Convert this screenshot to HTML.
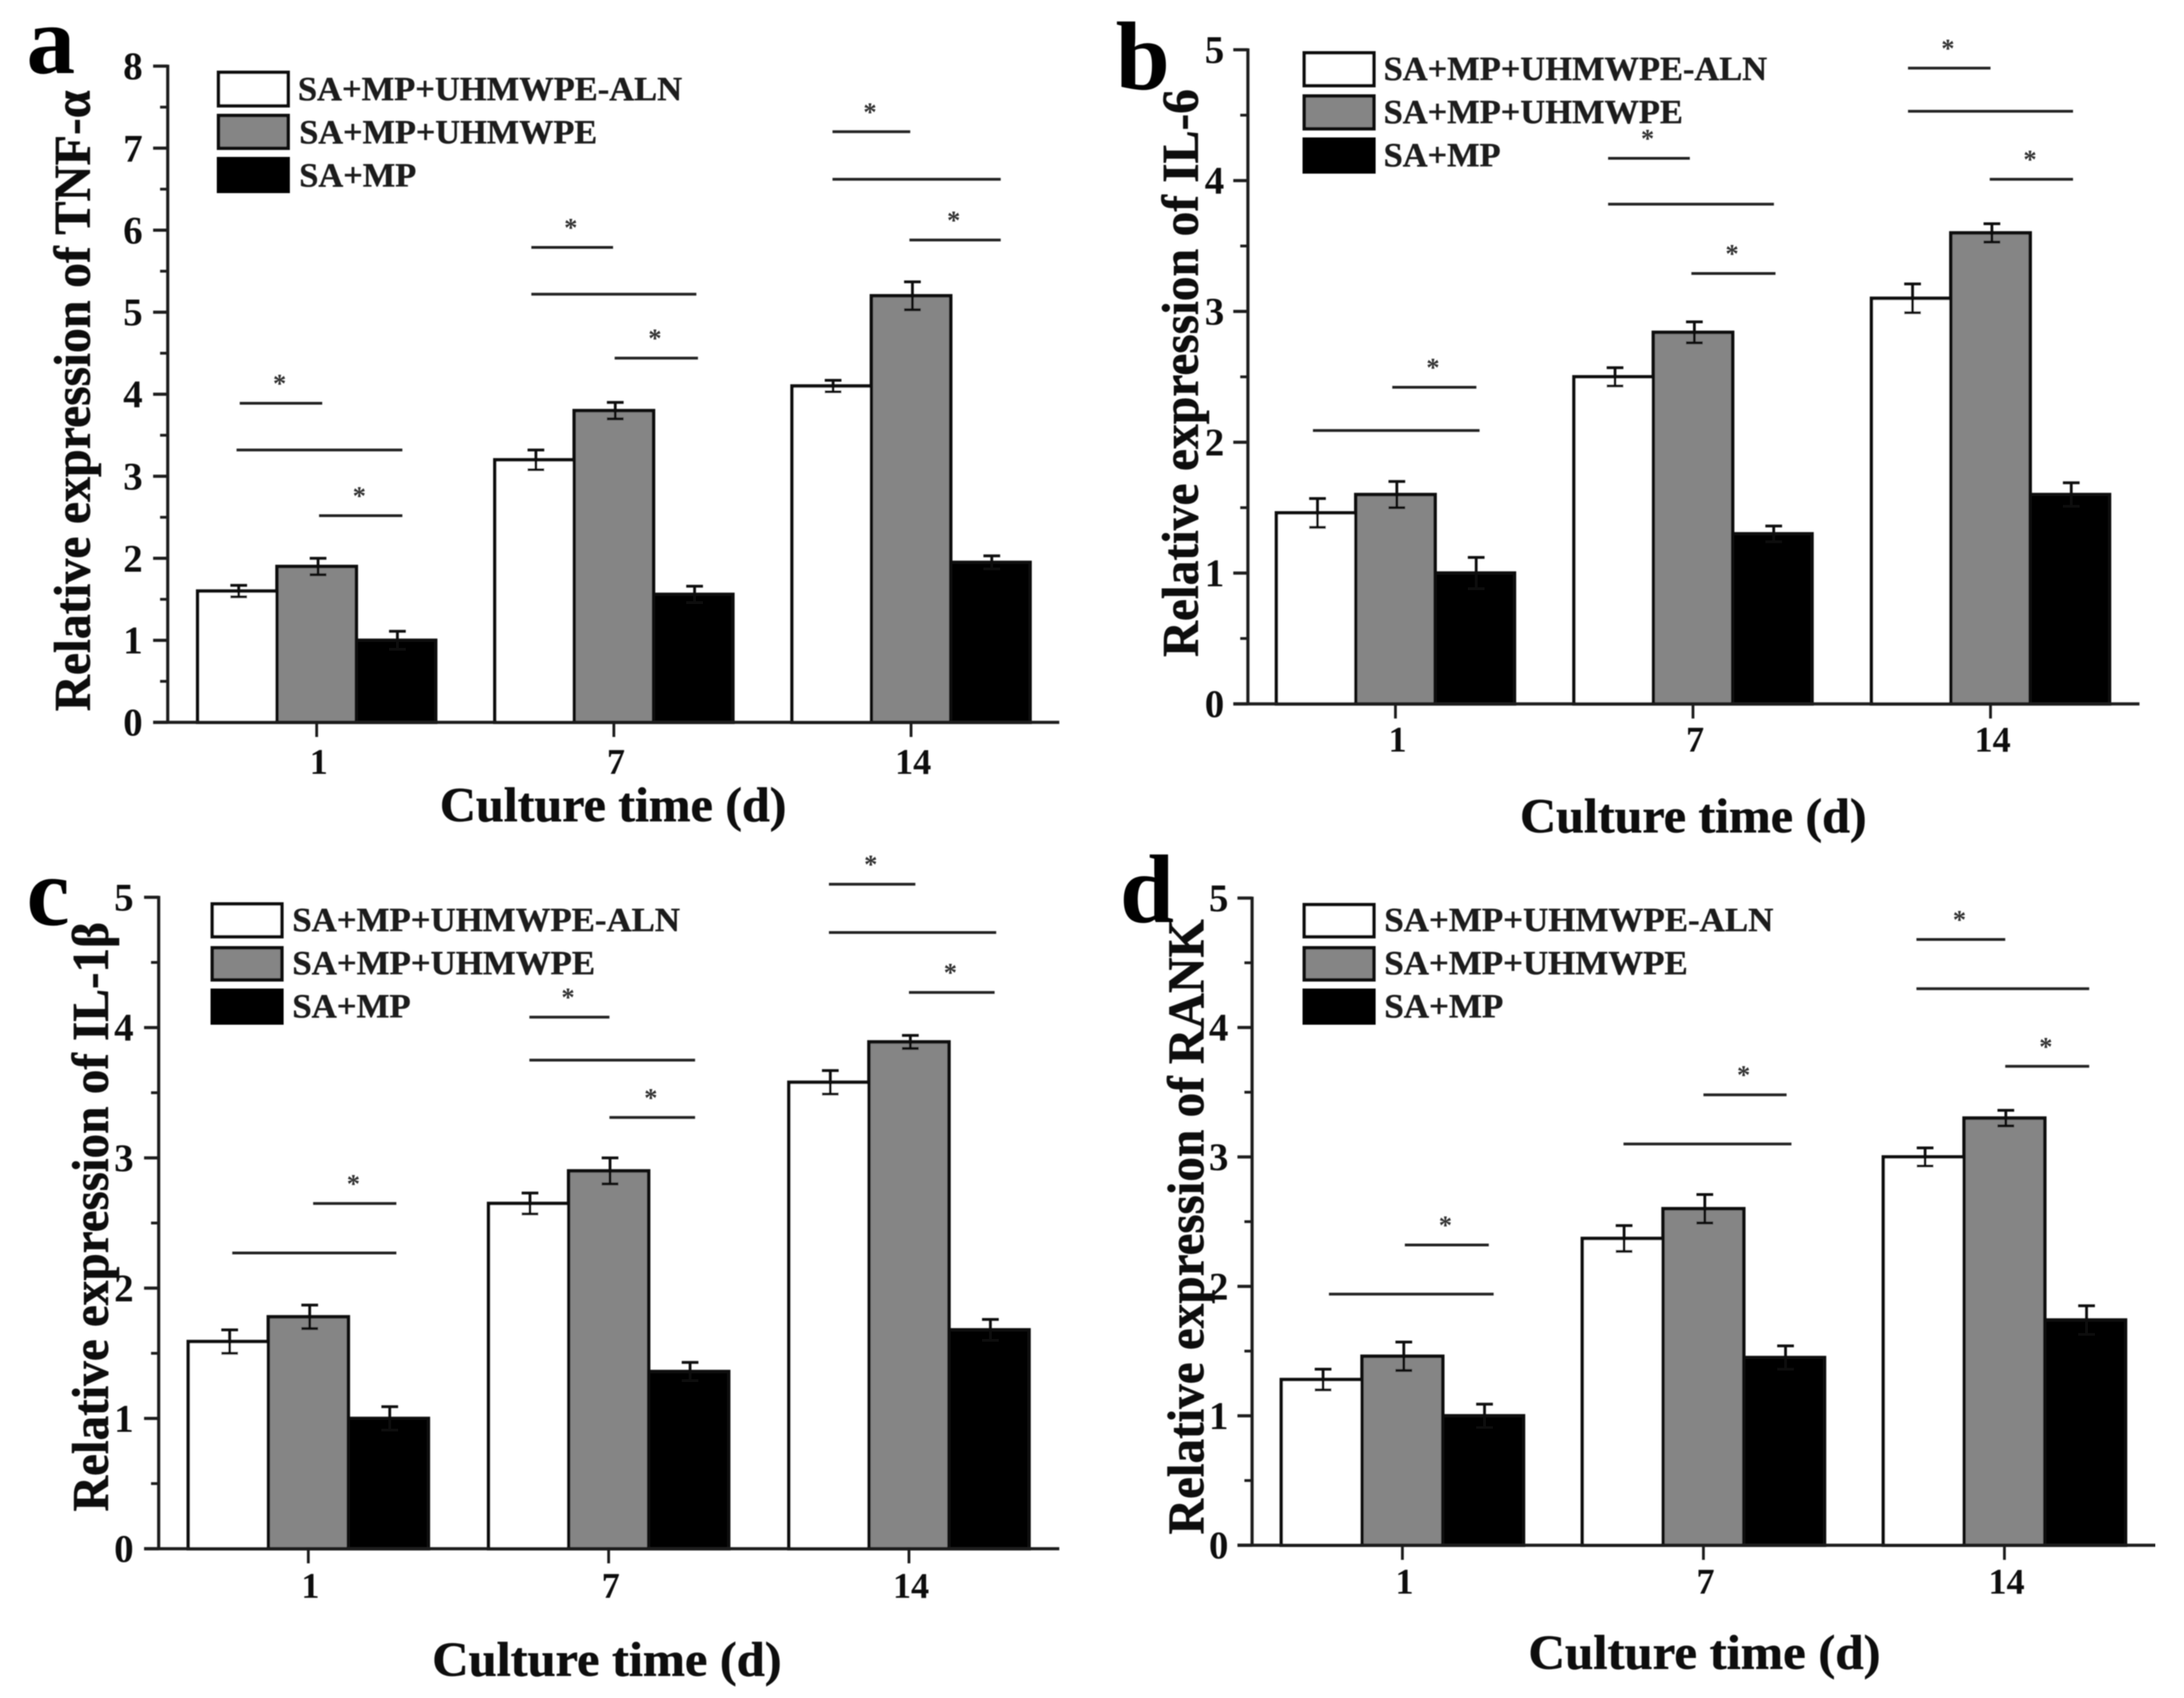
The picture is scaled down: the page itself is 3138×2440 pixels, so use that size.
<!DOCTYPE html>
<html lang="en">
<head>
<meta charset="utf-8">
<title>Relative expression of TNF-α, IL-6, IL-1β and RANK</title>
<style>
html,body{margin:0;padding:0;background:#fff;}
svg{display:block;}
text{font-family:"Liberation Serif","DejaVu Serif",serif;font-weight:bold;fill:#0c0c0c;}
.ylab{font-size:74px;stroke:#0c0c0c;stroke-width:0.8px;}
.xlab{font-size:70px;stroke:#0c0c0c;stroke-width:0.8px;}
.leg{font-size:49px;fill:#1c1c1c;stroke:#1c1c1c;stroke-width:0.6px;}
.letter{font-size:140px;fill:#000;}
</style>
</head>
<body>
<svg id="figure" xmlns="http://www.w3.org/2000/svg" width="3138" height="2440" viewBox="0 0 3138 2440">
<defs><filter id="soft" x="0" y="0" width="100%" height="100%"><feGaussianBlur stdDeviation="0.9"/></filter></defs>
<rect x="0" y="0" width="3138" height="2440" fill="#fff"/>
<g filter="url(#soft)">

<g id="panel-a">
  <text class="letter" x="38" y="105">a</text>
  <text class="ylab" transform="translate(129,1022) rotate(-90)" textLength="892" lengthAdjust="spacingAndGlyphs">Relative expression of TNF-α</text>
  <text class="xlab" x="632" y="1180" textLength="498" lengthAdjust="spacingAndGlyphs">Culture time (d)</text>
  <g>
    <rect x="314" y="104" width="100" height="48" fill="#fff" stroke="#111" stroke-width="5"/>
    <text class="leg" x="428" y="144" textLength="552" lengthAdjust="spacingAndGlyphs">SA+MP+UHMWPE-ALN</text>
    <rect x="314" y="166" width="100" height="47" fill="#858585" stroke="#111" stroke-width="5"/>
    <text class="leg" x="430" y="206" textLength="428" lengthAdjust="spacingAndGlyphs">SA+MP+UHMWPE</text>
    <rect x="314" y="228" width="100" height="47" fill="#000" stroke="#000" stroke-width="5"/>
    <text class="leg" x="430" y="268" textLength="168" lengthAdjust="spacingAndGlyphs">SA+MP</text>
  </g>
</g>

<g id="panel-b" transform="translate(1569,0)">
  <text class="letter" x="34" y="128">b</text>
  <text class="ylab" transform="translate(152,944) rotate(-90)" textLength="816" lengthAdjust="spacingAndGlyphs">Relative expression of IL-6</text>
  <text class="xlab" x="615" y="1196" textLength="498" lengthAdjust="spacingAndGlyphs">Culture time (d)</text>
  <g>
    <rect x="305" y="76" width="100" height="47" fill="#fff" stroke="#111" stroke-width="5"/>
    <text class="leg" x="419" y="115" textLength="551" lengthAdjust="spacingAndGlyphs">SA+MP+UHMWPE-ALN</text>
    <rect x="305" y="138" width="100" height="47" fill="#858585" stroke="#111" stroke-width="5"/>
    <text class="leg" x="419" y="177" textLength="430" lengthAdjust="spacingAndGlyphs">SA+MP+UHMWPE</text>
    <rect x="305" y="200" width="100" height="47" fill="#000" stroke="#000" stroke-width="5"/>
    <text class="leg" x="419" y="239" textLength="168" lengthAdjust="spacingAndGlyphs">SA+MP</text>
  </g>
</g>

<g id="panel-c" transform="translate(0,1220)">
  <text class="letter" x="38" y="109">c</text>
  <text class="ylab" transform="translate(155,952) rotate(-90)" textLength="847" lengthAdjust="spacingAndGlyphs">Relative expression of IL-1β</text>
  <text class="xlab" x="621" y="1188" textLength="502" lengthAdjust="spacingAndGlyphs">Culture time (d)</text>
  <g>
    <rect x="305" y="79" width="100" height="47" fill="#fff" stroke="#111" stroke-width="5"/>
    <text class="leg" x="420" y="118" textLength="557" lengthAdjust="spacingAndGlyphs">SA+MP+UHMWPE-ALN</text>
    <rect x="305" y="142" width="100" height="46" fill="#858585" stroke="#111" stroke-width="5"/>
    <text class="leg" x="420" y="180" textLength="435" lengthAdjust="spacingAndGlyphs">SA+MP+UHMWPE</text>
    <rect x="305" y="203" width="100" height="47" fill="#000" stroke="#000" stroke-width="5"/>
    <text class="leg" x="420" y="242" textLength="170" lengthAdjust="spacingAndGlyphs">SA+MP</text>
  </g>
</g>

<g id="panel-d" transform="translate(1569,1220)">
  <text class="letter" x="40" y="105">d</text>
  <text class="ylab" transform="translate(160,985) rotate(-90)" textLength="884" lengthAdjust="spacingAndGlyphs">Relative expression of RANK</text>
  <text class="xlab" x="627" y="1178" textLength="506" lengthAdjust="spacingAndGlyphs">Culture time (d)</text>
  <g>
    <rect x="305" y="80" width="100" height="46" fill="#fff" stroke="#111" stroke-width="5"/>
    <text class="leg" x="420" y="118" textLength="559" lengthAdjust="spacingAndGlyphs">SA+MP+UHMWPE-ALN</text>
    <rect x="305" y="142" width="100" height="46" fill="#858585" stroke="#111" stroke-width="5"/>
    <text class="leg" x="420" y="180" textLength="436" lengthAdjust="spacingAndGlyphs">SA+MP+UHMWPE</text>
    <rect x="305" y="203" width="100" height="47" fill="#000" stroke="#000" stroke-width="5"/>
    <text class="leg" x="420" y="242" textLength="171" lengthAdjust="spacingAndGlyphs">SA+MP</text>
  </g>
</g>

</g>
</svg>

<script>
// ---- data ----
const categories = ['1', '7', '14'];
const yTicksA = ['0', '1', '2', '3', '4', '5', '6', '7', '8'];
const yTicksOther = ['0', '1', '2', '3', '4', '5'];
const seriesNames = ['aln', 'uhmwpe', 'mp'];

const tnfAln = [1.6, 3.2, 4.1];
const tnfUhmwpe = [1.9, 3.8, 5.2];
const tnfMp = [1.0, 1.56, 1.95];
const tnfAlnErr = [0.07, 0.12, 0.07];
const tnfUhmwpeErr = [0.1, 0.1, 0.17];
const tnfMpErr = [0.11, 0.1, 0.08];

const il6Aln = [1.46, 2.5, 3.1];
const il6Uhmwpe = [1.6, 2.84, 3.6];
const il6Mp = [1.0, 1.3, 1.6];
const il6AlnErr = [0.11, 0.07, 0.11];
const il6UhmwpeErr = [0.1, 0.08, 0.07];
const il6MpErr = [0.12, 0.06, 0.09];

const il1Aln = [1.59, 2.65, 3.58];
const il1Uhmwpe = [1.78, 2.9, 3.89];
const il1Mp = [1.0, 1.36, 1.68];
const il1AlnErr = [0.09, 0.08, 0.09];
const il1UhmwpeErr = [0.09, 0.1, 0.05];
const il1MpErr = [0.09, 0.07, 0.08];

const rankAln = [1.28, 2.37, 3.0];
const rankUhmwpe = [1.46, 2.6, 3.3];
const rankMp = [1.0, 1.45, 1.74];
const rankAlnErr = [0.08, 0.1, 0.07];
const rankUhmwpeErr = [0.11, 0.11, 0.06];
const rankMpErr = [0.09, 0.09, 0.11];

// significance bars: [category index, start (bar widths from category centre), end, level in y units, has star]
const tnfSig = [[0,-0.97,0.07,3.89,1],[0,-1.01,1.08,3.32,0],[0,0.03,1.08,2.52,1],[1,-1.04,-0.01,5.79,1],[1,-1.04,1.04,5.22,0],[1,0.01,1.06,4.44,1],[2,-0.99,-0.01,7.2,1],[2,-0.99,1.13,6.62,0],[2,-0.02,1.13,5.88,1]];
const il6Sig = [[0,-0.04,1.02,2.42,1],[0,-1.04,1.06,2.09,0],[1,-1.07,-0.04,4.17,1],[1,-1.07,1.02,3.82,0],[1,-0.02,1.04,3.29,1],[2,-1.04,0,4.86,1],[2,-1.04,1.04,4.53,0],[2,-0.01,1.04,4.01,1]];
const il1Sig = [[0,0.06,1.1,2.65,1],[0,-0.95,1.1,2.27,0],[1,-0.99,0.01,4.08,1],[1,-0.99,1.08,3.75,0],[1,0.01,1.08,3.31,1],[2,-1,0.08,5.1,1],[2,-1,1.09,4.73,0],[2,0,1.07,4.27,1]];
const rankSig = [[0,0.03,1.07,2.32,1],[0,-0.91,1.13,1.94,0],[1,0,1.03,3.48,1],[1,-0.99,1.09,3.1,0],[2,-1.09,0.01,4.68,1],[2,-1.09,1.05,4.3,0],[2,0.01,1.05,3.7,1]];

// ---- layout (kept apart from the data) ----
const panels = [
  {id:'panel-a', key:'a', ticks:yTicksA, series:[tnfAln,tnfUhmwpe,tnfMp], errs:[tnfAlnErr,tnfUhmwpeErr,tnfMpErr], sig:tnfSig,
   axisX:241, endX:1522, y0:1038, yTop:95, cat0:455, catStep:427, bar:114, yLabelX:205, xLabelY:1112},
  {id:'panel-b', key:'b', ticks:yTicksOther, series:[il6Aln,il6Uhmwpe,il6Mp], errs:[il6AlnErr,il6UhmwpeErr,il6MpErr], sig:il6Sig,
   axisX:224, endX:1505, y0:1011.5, yTop:71.5, cat0:436, catStep:427.5, bar:114, yLabelX:190, xLabelY:1080},
  {id:'panel-c', key:'c', ticks:yTicksOther, series:[il1Aln,il1Uhmwpe,il1Mp], errs:[il1AlnErr,il1UhmwpeErr,il1MpErr], sig:il1Sig,
   axisX:228, endX:1522, y0:1005.5, yTop:69.4, cat0:443, catStep:431.5, bar:115, yLabelX:192, xLabelY:1076},
  {id:'panel-d', key:'d', ticks:yTicksOther, series:[rankAln,rankUhmwpe,rankMp], errs:[rankAlnErr,rankUhmwpeErr,rankMpErr], sig:rankSig,
   axisX:230, endX:1528, y0:1000.5, yTop:70.5, cat0:446, catStep:432.5, bar:116, yLabelX:196, xLabelY:1070}
];
const fills = ['#ffffff', '#858585', '#000000'];
const NS = 'http://www.w3.org/2000/svg';

function make(tag, parent, attrs, txt) {
  const el = document.createElementNS(NS, tag);
  for (const k in attrs) el.setAttribute(k, attrs[k]);
  if (txt !== undefined) el.textContent = txt;
  parent.appendChild(el);
  return el;
}

function drawPanel(p) {
  const root = document.getElementById(p.id);
  const yMax = p.ticks.length - 1;
  const yOf = v => p.y0 - (v / yMax) * (p.y0 - p.yTop);
  const catX = i => p.cat0 + i * p.catStep;
  const barX = (c, s) => catX(c) + (s - 1.5) * p.bar;

  // bars
  p.series.forEach((vals, s) => {
    vals.forEach((v, c) => {
      const bar = make('rect', root, {x: barX(c, s), y: yOf(v), width: p.bar, height: p.y0 - yOf(v), fill: fills[s], stroke: '#0a0a0a', 'stroke-width': 5});
      
      
    });
  });

  // error bars
  p.series.forEach((vals, s) => {
    vals.forEach((v, c) => {
      const cx = barX(c, s) + p.bar / 2 + 2;
      const hi = yOf(v + p.errs[s][c]);
      const lo = yOf(v - p.errs[s][c]);
      const g = make('g', root, {stroke: '#0a0a0a', 'stroke-width': 4, fill: 'none'});
      
      
      make('line', g, {x1: cx, x2: cx, y1: hi, y2: lo});
      make('line', g, {x1: cx - 12, x2: cx + 12, y1: hi, y2: hi});
      make('line', g, {x1: cx - 12, x2: cx + 12, y1: lo, y2: lo});
    });
  });

  // axes
  const yAxis = make('line', root, {x1: p.axisX, x2: p.axisX, y1: p.yTop - 2, y2: p.y0 + 2, stroke: '#1a1a1a', 'stroke-width': 4.5});
  
  
  const xAxis = make('line', root, {x1: p.axisX - 21, x2: p.endX, y1: p.y0, y2: p.y0, stroke: '#1a1a1a', 'stroke-width': 4.5});
  
  

  // y ticks & labels
  p.ticks.forEach((label, i) => {
    const y = yOf(Number(label));
    const tick = make('line', root, {x1: p.axisX - 21, x2: p.axisX, y1: y, y2: y, stroke: '#1a1a1a', 'stroke-width': 4.5});
    
    
    if (i < p.ticks.length - 1) {
      const ym = yOf(Number(label) + 0.5);
      const minor = make('line', root, {x1: p.axisX - 11, x2: p.axisX, y1: ym, y2: ym, stroke: '#1a1a1a', 'stroke-width': 4});
      
      
    }
    const t = make('text', root, {x: p.yLabelX, y: y + 19, 'text-anchor': 'end', 'font-size': 56}, label);
    
    
  });

  // x ticks & labels
  categories.forEach((label, i) => {
    const x = catX(i);
    const tick = make('line', root, {x1: x, x2: x, y1: p.y0, y2: p.y0 + 21, stroke: '#1a1a1a', 'stroke-width': 4});
    
    
    const t = make('text', root, {x: x + 3, y: p.xLabelY, 'text-anchor': 'middle', 'font-size': 52}, label);
    
    
  });

  // significance bars
  p.sig.forEach(s => {
    const x1 = catX(s[0]) + s[1] * p.bar;
    const x2 = catX(s[0]) + s[2] * p.bar;
    const y = yOf(s[3]);
    const line = make('line', root, {x1: x1, x2: x2, y1: y, y2: y, stroke: '#222', 'stroke-width': 4});
    
    
    if (s[4]) {
      const star = make('text', root, {x: (x1 + x2) / 2 - 2, y: y - 16, 'text-anchor': 'middle', 'font-size': 38, style: 'fill:#333'}, '*');
      
      
    }
  });
}
panels.forEach(drawPanel);
</script>
</body>
</html>
